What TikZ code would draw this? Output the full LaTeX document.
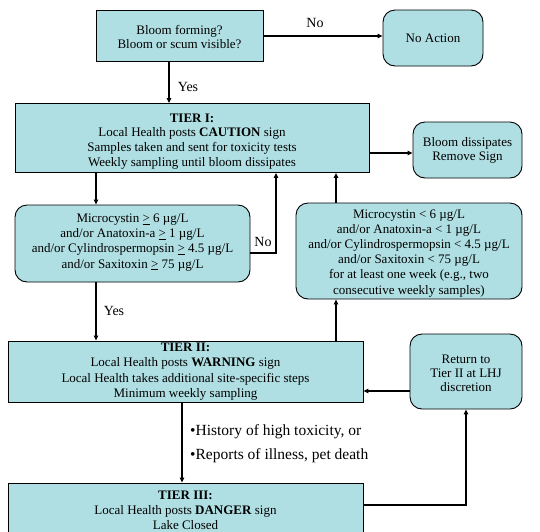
\documentclass[tikz,border=0pt]{standalone}
\usepackage{fontspec}
\setmainfont{Liberation Serif}
\usetikzlibrary{arrows.meta,calc}
\definecolor{boxfill}{RGB}{176,223,227}
\tikzset{
  sq/.style={draw=black, line width=0.9pt, fill=boxfill, align=center, inner sep=0pt, font=\fontsize{13}{14.7}\selectfont},
  rd/.style={sq, rounded corners=12pt},
  sm/.style={font=\fontsize{13}{15.2}\selectfont},
  arr/.style={line width=1.1pt, -{Triangle[length=5pt,width=4.5pt]}},
  lbl/.style={font=\fontsize{14}{16}\selectfont, inner sep=0pt},
  hist/.style={font=\fontsize{15.5}{17}\selectfont, inner sep=0pt, anchor=west}
}
\begin{document}
\begin{tikzpicture}[x=1pt,y=-1pt]
\clip (0,0) rectangle (540,531);
\fill[white] (0,0) rectangle (540,531);
\node[sq, minimum width=167pt, minimum height=51pt, font=\fontsize{13}{14}\selectfont] (b1) at (179.5,35.5) {\rule{0pt}{12pt}Bloom forming?\\Bloom or scum visible?};
\node[rd, minimum width=100pt, minimum height=56pt] (na) at (433,38) {No Action};
\node[sq, minimum width=354pt, minimum height=69pt] (t1) at (192,138) {\rule{0pt}{15pt}\textbf{TIER I:}\\Local Health posts \textbf{CAUTION} sign\\Samples taken and sent for toxicity tests\\Weekly sampling until bloom dissipates};
\node[rd, minimum width=109pt, minimum height=56pt, font=\fontsize{13}{14}\selectfont] (bd) at (467.5,150) {Bloom dissipates\\Remove Sign};
\node[rd, sm, minimum width=235pt, minimum height=77pt] (mge) at (132.5,243.5) {Microcystin \underline{>} 6 µg/L\\and/or Anatoxin-a \underline{>} 1 µg/L\\and/or Cylindrospermopsin \underline{>} 4.5 µg/L\\and/or Saxitoxin \underline{>} 75 µg/L\rule[-5pt]{0pt}{5pt}};
\node[rd, sm, minimum width=226pt, minimum height=96pt] (mlt) at (409,251) {\rule{0pt}{13pt}Microcystin < 6 µg/L\\and/or Anatoxin-a < 1 µg/L\\and/or Cylindrospermopsin < 4.5 µg/L\\and/or Saxitoxin < 75 µg/L\\for at least one week (e.g., two\\consecutive weekly samples)};
\node[sq, minimum width=355pt, minimum height=61pt, font=\fontsize{13}{15.5}\selectfont] (t2) at (185.5,371.5) {\textbf{TIER II:}\\Local Health posts \textbf{WARNING} sign\\Local Health takes additional site-specific steps\\Minimum weekly sampling};
\node[rd, minimum width=112pt, minimum height=75pt, font=\fontsize{13}{14}\selectfont] (rt) at (466,371.5) {\rule{0pt}{12pt}Return to\\Tier II at LHJ\\discretion};
\node[sq, minimum width=355pt, minimum height=54pt, font=\fontsize{13}{15}\selectfont] (t3) at (185.5,510) {\textbf{TIER III:}\\Local Health posts \textbf{DANGER} sign\\Lake Closed};
% coordinates for connector columns
\coordinate (xyes) at (169,0);
\coordinate (xl) at (96,0);
\coordinate (xno) at (276,0);
\coordinate (xr) at (336,0);
\coordinate (xt) at (182,0);
\coordinate (xret) at (466,0);
\coordinate (ya) at (0,36);
\coordinate (yb) at (0,153);
\coordinate (yc) at (0,253);
\coordinate (yd) at (0,391);
\coordinate (ye) at (0,505);
% connectors
\draw[arr] (b1.east |- ya) -- (na.west |- ya);
\node[lbl] (lno1) at (315,23) {No};
\draw[arr] (b1.south -| xyes) -- (t1.north -| xyes);
\node[lbl] (lyes1) at (188,87) {Yes};
\draw[arr] (t1.east |- yb) -- (bd.west |- yb);
\draw[arr] (t1.south -| xl) -- (mge.north -| xl);
\draw[arr] (mge.east |- yc) -| (t1.south -| xno);
\node[lbl] (lno2) at (263,242) {No};
\draw[arr] (mlt.north -| xr) -- (t1.south -| xr);
\draw[arr] (t2.north -| xr) -- (mlt.south -| xr);
\draw[arr] (mge.south -| xl) -- (t2.north -| xl);
\node[lbl] (lyes2) at (114,311) {Yes};
\draw[arr] (rt.west |- yd) -- (t2.east |- yd);
\draw[arr] (t2.south -| xt) -- (t3.north -| xt);
\node[hist] (h1) at (190,432) {•History of high toxicity, or};
\node[hist] (h2) at (190,456) {•Reports of illness, pet death};
\draw[arr] (t3.east |- ye) -| (rt.south -| xret);
\end{tikzpicture}
\end{document}
